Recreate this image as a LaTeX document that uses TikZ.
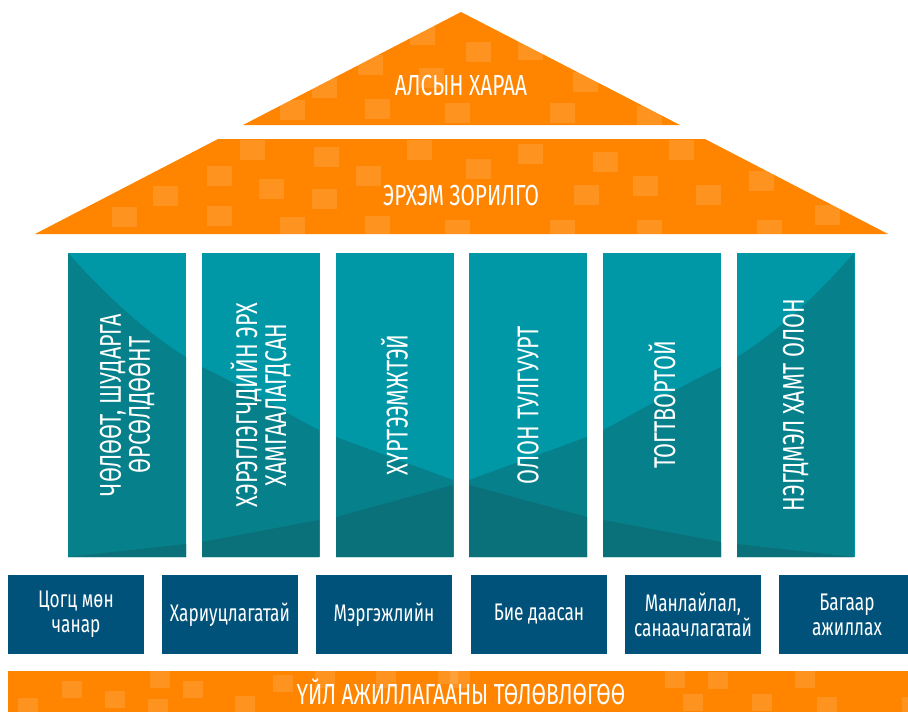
\documentclass[tikz,border=0pt]{standalone}
\usepackage{fontspec}
\setmainfont{Fira Sans}[FakeStretch=0.72]

\definecolor{roof}{RGB}{255,133,0}
\definecolor{pillar}{RGB}{0,152,166}
\definecolor{pillarmid}{RGB}{6,128,138}
\definecolor{pillardark}{RGB}{10,112,121}
\definecolor{value}{RGB}{0,82,122}

\begin{document}
\begin{tikzpicture}[x=1pt, y=-1pt,
    label/.style={text=white, font=\fontsize{29}{29}\selectfont, align=center, inner sep=0pt},
    pillartext/.style={label, font=\fontsize{30}{29}\selectfont, rotate=90},
    valuebox/.style={fill=value, minimum width=136pt, minimum height=79pt, text=white,
        font=\fontsize{24}{25}\selectfont, align=center, inner sep=0pt},
    tile/.style={fill=white, opacity=0.12}]
    \useasboundingbox (0,0) rectangle (908,712);

    % vision
    \fill[roof] (243,125) -- (461,12) -- (680,125) -- cycle;
    \begin{scope}
        \clip (243,125) -- (461,12) -- (680,125) -- cycle;
        \foreach \x/\y in {466/42, 410/25, 518/40, 358/55, 419/68, 312/78, 573/72,
            280/100, 365/99, 445/103, 550/103, 637/106}
            \fill[tile] (\x,\y) rectangle ++(25,20);
    \end{scope}
    \node at (461,86) [label] (vision) {АЛСЫН ХАРАА};

    % mission
    \fill[roof] (35,234) -- (218,139) -- (705,139) -- (888,234) -- cycle;
    \begin{scope}
        \clip (35,234) -- (218,139) -- (705,139) -- (888,234) -- cycle;
        \foreach \x/\y in {240/140, 314/147, 407/140, 518/144, 669/140, 207/166, 356/166,
            466/159, 593/152, 749/171, 153/186, 259/179, 312/189, 574/185, 633/176,
            696/185, 112/207, 207/206, 280/217, 365/216, 445/220, 550/220, 637/220,
            757/220, 815/205}
            \fill[tile] (\x,\y) rectangle ++(25,20);
    \end{scope}
    \node at (461,196) [label] (mission) {ЭРХЭМ ЗОРИЛГО};

    % pillars
    \foreach \x in {68,202,336,469,603,737}
        \fill[pillar] (\x,253) rectangle ++(118,304);
    \fill[pillarmid] (68,253) .. controls (110,300) and (150,335) .. (186,357) -- (186,557) -- (68,557) -- cycle;
    \fill[pillardark] (68,557) -- (186,544) -- (186,557) -- cycle;
    \fill[pillarmid] (202,367) .. controls (240,385) and (280,410) .. (319,430) -- (319,557) -- (202,557) -- cycle;
    \fill[pillardark] (202,542) -- (319,520) -- (319,557) -- (202,557) -- cycle;
    \fill[pillarmid] (336,437) -- (453,480) -- (453,557) -- (336,557) -- cycle;
    \fill[pillardark] (336,517) -- (453,485) -- (453,557) -- (336,557) -- cycle;
    \fill[pillarmid] (469,480) -- (587,437) -- (587,557) -- (469,557) -- cycle;
    \fill[pillardark] (469,485) -- (587,517) -- (587,557) -- (469,557) -- cycle;
    \fill[pillarmid] (603,430) .. controls (642,410) and (682,385) .. (721,367) -- (721,557) -- (603,557) -- cycle;
    \fill[pillardark] (603,520) -- (721,542) -- (721,557) -- (603,557) -- cycle;
    \fill[pillarmid] (737,357) .. controls (773,335) and (813,300) .. (854,253) -- (854,557) -- (737,557) -- cycle;
    \fill[pillardark] (737,544) -- (854,557) -- (737,557) -- cycle;

    \node at (127,405) [pillartext] (p1) {ЧӨЛӨӨТ, ШУДАРГА\\ӨРСӨЛДӨӨНТ};
    \node at (260.5,405) [pillartext] (p2) {ХЭРЭГЛЭГЧДИЙН ЭРХ\\ХАМГААЛАГДСАН};
    \node at (394.5,405) [pillartext] (p3) {ХҮРТЭЭМЖТЭЙ};
    \node at (528,405) [pillartext] (p4) {ОЛОН ТУЛГУУРТ};
    \node at (662,405) [pillartext] (p5) {ТОГТВОРТОЙ};
    \node at (795.5,405) [pillartext] (p6) {НЭГДМЭЛ ХАМТ ОЛОН};

    % values
    \node at (76,614.5) [valuebox] (v1) {Цогц мөн\\чанар};
    \node at (230,614.5) [valuebox] (v2) {Хариуцлагатай};
    \node at (384,614.5) [valuebox] (v3) {Мэргэжлийн};
    \node at (539,614.5) [valuebox] (v4) {Бие даасан};
    \node at (693,614.5) [valuebox] (v5) {Манлайлал,\\санаачлагатай};
    \node at (847,614.5) [valuebox] (v6) {Багаар\\ажиллах};

    % plan
    \fill[roof] (8,671) rectangle (908,712);
    \begin{scope}
        \clip (8,671) rectangle (908,712);
        \foreach \x/\y in {150/671, 62/681, 105/691, 18/698, 148/699, 183/681, 235/696,
            273/675, 315/671, 376/671, 438/667, 450/671, 665/671, 708/672, 795/671,
            752/694, 683/694, 817/697, 902/697}
            \fill[tile] (\x,\y) rectangle ++(20,17);
    \end{scope}
    \node at (461,692) [label] (plan) {ҮЙЛ АЖИЛЛАГААНЫ ТӨЛӨВЛӨГӨӨ};
\end{tikzpicture}
\end{document}
